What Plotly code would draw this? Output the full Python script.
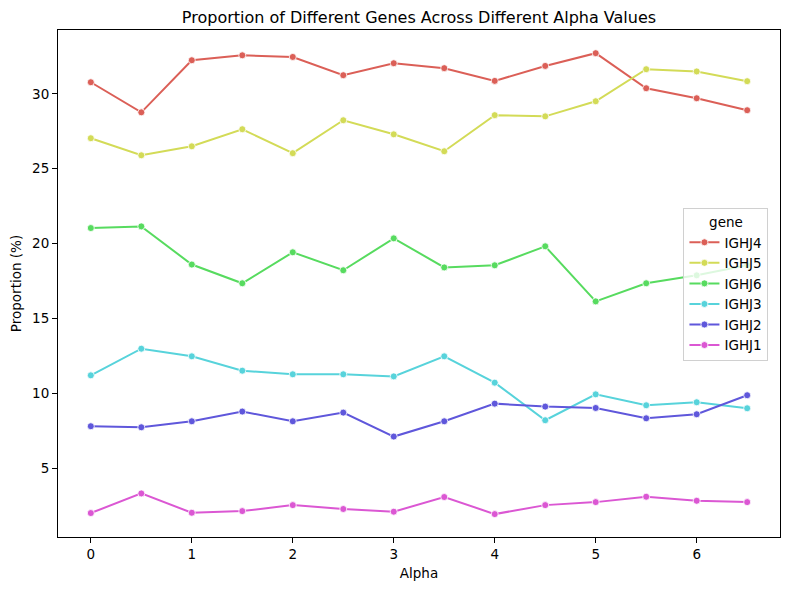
import plotly.graph_objects as go

alpha = [0, 0.5, 1, 1.5, 2, 2.5, 3, 3.5, 4, 4.5, 5, 5.5, 6, 6.5]
genes = ["IGHJ4", "IGHJ5", "IGHJ6", "IGHJ3", "IGHJ2", "IGHJ1"]
ighj4 = [30.78, 28.77, 32.25, 32.58, 32.47, 31.25, 32.05, 31.72, 30.87, 31.87, 32.72, 30.38, 29.71, 28.91]
ighj5 = [27.04, 25.90, 26.50, 27.64, 26.04, 28.24, 27.30, 26.17, 28.58, 28.50, 29.51, 31.65, 31.50, 30.85]
ighj6 = [21.04, 21.15, 18.60, 17.35, 19.42, 18.22, 20.35, 18.41, 18.55, 19.82, 16.14, 17.35, 17.88, 18.55]
ighj3 = [11.20, 12.98, 12.47, 11.51, 11.27, 11.27, 11.13, 12.47, 10.71, 8.20, 9.93, 9.20, 9.40, 9.00]
ighj2 = [7.80, 7.73, 8.13, 8.78, 8.13, 8.71, 7.11, 8.13, 9.31, 9.11, 9.02, 8.33, 8.60, 9.87]
ighj1 = [2.00, 3.31, 2.02, 2.13, 2.53, 2.27, 2.09, 3.07, 1.93, 2.53, 2.73, 3.09, 2.82, 2.73]
series = [ighj4, ighj5, ighj6, ighj3, ighj2, ighj1]
colors = ["#db5f57", "#d3db57", "#57db5f", "#57d3db", "#5f57db", "#db57d3"]

x_ticks = [0, 1, 2, 3, 4, 5, 6]
y_ticks = [5, 10, 15, 20, 25, 30]

FONT = "DejaVu Sans"
W, H = 782, 582  # page body has an 8px margin
fig = go.Figure()
for name, vals, c in zip(genes, series, colors):
    fig.add_trace(go.Scatter(
        x=alpha, y=vals, name=name, mode="lines+markers",
        line=dict(color=c, width=2),
        marker=dict(color=c, size=7, line=dict(color="white", width=0.8)),
    ))

axis_common = dict(
    showline=True, linecolor="black", linewidth=1, mirror=True,
    ticks="outside", ticklen=5, tickwidth=1, tickcolor="black",
    showgrid=False, zeroline=False, automargin=False,
    tickfont=dict(family=FONT, size=13.5, color="black"),
)
fig.update_layout(
    width=W, height=H,
    margin=dict(l=50, r=10, t=22, b=53, autoexpand=False),
    plot_bgcolor="white", paper_bgcolor="white",
    font=dict(family=FONT, size=13.5, color="black"),
    title=dict(text="Proportion of Different Genes Across Different Alpha Values",
               x=0.5, xref="paper", xanchor="center",
               y=1 - 9.5 / H, yref="container", yanchor="middle",
               font=dict(family=FONT, size=16, color="black")),
    xaxis=dict(range=[-0.325, 6.825], tickvals=x_ticks,
               title=dict(text="Alpha", standoff=7,
                          font=dict(family=FONT, size=13.5)),
               **axis_common),
    yaxis=dict(range=[0.4, 34.27], tickvals=y_ticks,
               title=dict(text="Proportion (%)", standoff=8,
                          font=dict(family=FONT, size=13.5)),
               **axis_common),
    legend=dict(
        title=dict(text="gene", side="top center",
                   font=dict(family=FONT, size=13.5)),
        x=0.984, xanchor="right", y=0.648, yanchor="top",
        bordercolor="#d0d0d0", borderwidth=1, bgcolor="rgba(255,255,255,0.8)",
        font=dict(family=FONT, size=13.5), itemwidth=30, tracegroupgap=0,
    ),
    hovermode=False,
)
fig.write_html("out.html")
